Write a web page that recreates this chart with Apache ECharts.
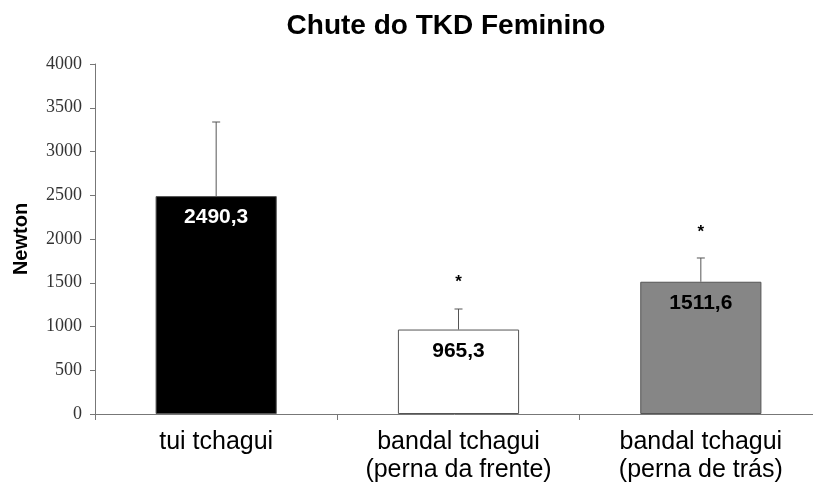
<!DOCTYPE html>
<html>
<head>
<meta charset="utf-8">
<script src="https://cdn.jsdelivr.net/npm/echarts@6/dist/echarts.min.js"></script>
<style>
  html, body { margin: 0; padding: 0; background: #fff; }
  #chart { width: 813px; height: 488px; }
</style>
</head>
<body>
<div id="chart"></div>
<script>
const categories = ['tui tchagui', 'bandal tchagui\n(perna da frente)', 'bandal tchagui\n(perna de trás)']
const means = [2490.3, 965.3, 1511.6]
const errTops = [3337, 1200, 1783]
const starValues = [null, 1510, 2080]
const barColors = ['#000000', '#ffffff', '#868686']
const labelColors = ['#ffffff', '#000000', '#000000']

const chart = echarts.init(document.getElementById('chart'))

const option = {
  animation: false,
  title: {
    text: 'Chute do TKD Feminino',
    left: 441,
    textAlign: 'center',
    top: 7,
    textStyle: { fontFamily: 'Liberation Sans', fontSize: 28, fontWeight: 'bold', color: '#000' }
  },
  grid: { left: 95, top: 64, bottom: 74, right: -9, outerBoundsMode: 'none' },
  xAxis: {
    type: 'category',
    data: categories,
    axisLine: { lineStyle: { color: '#777', width: 1 } },
    axisTick: { show: true, length: 6, lineStyle: { color: '#777' } },
    axisLabel: {
      interval: 0,
      hideOverlap: false,
      color: '#000', fontFamily: 'Liberation Sans', fontSize: 25,
      lineHeight: 28, margin: 14
    }
  },
  yAxis: {
    type: 'value',
    min: 0, max: 4000, interval: 500,
    name: 'Newton',
    nameLocation: 'middle',
    nameGap: 64,
    nameTextStyle: { fontFamily: 'Liberation Sans', fontSize: 20, fontWeight: 'bold', color: '#000' },
    splitLine: { show: false },
    axisLine: { show: true, lineStyle: { color: '#777', width: 1 } },
    axisTick: { show: true, length: 5, lineStyle: { color: '#777' } },
    axisLabel: {
      color: '#333', fontFamily: 'Liberation Serif', fontSize: 18, margin: 13,
      formatter: v => String(v)
    }
  },
  series: [
    {
      type: 'bar',
      barWidth: '50%',
      data: means.map((v, i) => ({
        value: v,
        itemStyle: { color: barColors[i], borderColor: '#555', borderWidth: 1 },
        label: { color: labelColors[i] }
      })),
      label: {
        show: true,
        position: 'insideTop',
        distance: 11,
        fontFamily: 'Liberation Sans',
        fontSize: 21,
        fontWeight: 'bold',
        formatter: p => String(p.value).replace('.', ',')
      }
    },
    {
      type: 'custom',
      data: means.map((v, i) => [i, v, errTops[i]]),
      z: 3,
      renderItem: (params, api) => {
        const base = api.coord([api.value(0), api.value(1)])
        const top = api.coord([api.value(0), api.value(2)])
        const cap = 4
        return {
          type: 'group',
          children: [
            { type: 'line', shape: { x1: base[0], y1: base[1], x2: top[0], y2: top[1] }, style: { stroke: '#555', lineWidth: 1 } },
            { type: 'line', shape: { x1: top[0] - cap, y1: top[1], x2: top[0] + cap, y2: top[1] }, style: { stroke: '#555', lineWidth: 1 } }
          ]
        }
      }
    },
    {
      type: 'custom',
      data: starValues.map((v, i) => [i, v]).filter(d => d[1] !== null),
      renderItem: (params, api) => {
        const pt = api.coord([api.value(0), api.value(1)])
        return {
          type: 'text',
          style: {
            x: pt[0], y: pt[1], text: '*', align: 'center', verticalAlign: 'middle',
            font: 'bold 17px "Liberation Sans"', fill: '#000'
          }
        }
      }
    }
  ]
}

chart.setOption(option)
</script>
</body>
</html>
